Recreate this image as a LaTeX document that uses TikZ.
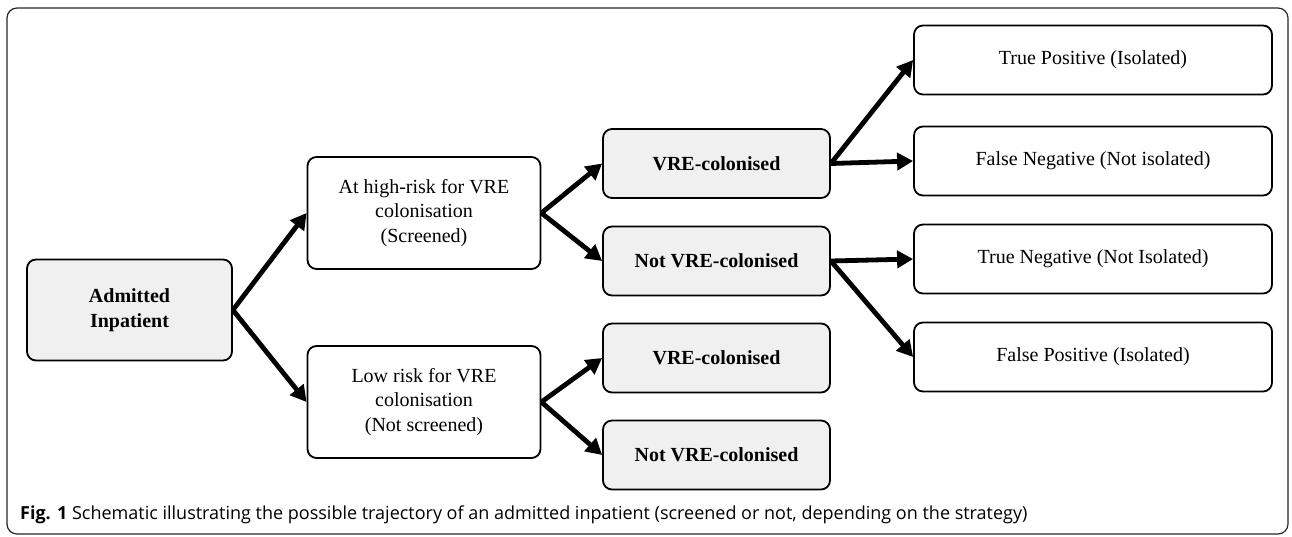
\documentclass[tikz,border=0pt]{standalone}
\usepackage{fontspec}
\setmainfont{Liberation Serif}
\newfontfamily\capfont{Open Sans}
\usepackage{tikz}
\usetikzlibrary{arrows.meta}
\newcommand{\bnode}[4]{\node [#1] (#2) at (#3) {#4}}
\tikzset{
  box/.style={draw, line width=1.8pt, rounded corners=9pt, align=center,
    inner sep=0pt, font=\fontsize{20}{24.5}\selectfont},
  graybox/.style={box, fill=black!6, font=\fontsize{20}{24.5}\selectfont\bfseries},
  wide/.style={minimum width=233pt, minimum height=112pt},
  mid/.style={minimum width=227pt, minimum height=69pt},
  far/.style={minimum width=358pt, minimum height=69pt},
  arr/.style={line width=4.8pt, -{Triangle[length=16pt,width=17pt]}}
}

\begin{document}
\begin{tikzpicture}[x=1pt,y=-1pt]
\useasboundingbox (0,0) rectangle (1292,536);
\draw[line width=1.2pt, black!85, rounded corners=10pt] (7,8) rectangle (1288,534);

\bnode{graybox, minimum width=205pt, minimum height=101pt}{ADM}{129.5,310}{Admitted\\Inpatient};
\bnode{box, wide}{HIGH}{424,213}{At high-risk for VRE\\colonisation\\(Screened)};
\bnode{box, wide}{LOW}{424,402}{Low risk for VRE\\colonisation\\(Not screened)};

\bnode{graybox, mid}{VREA}{716.5,163.5}{VRE-colonised};
\bnode{graybox, mid}{NOTA}{716.5,261}{Not VRE-colonised};
\bnode{graybox, mid}{VREB}{716.5,358}{VRE-colonised};
\bnode{graybox, mid}{NOTB}{716.5,455}{Not VRE-colonised};

\bnode{box, far}{TP}{1093,60}{True Positive (Isolated)};
\bnode{box, far}{FN}{1093,161}{False Negative (Not isolated)};
\bnode{box, far}{TN}{1093,259}{True Negative (Not Isolated)};
\bnode{box, far}{FP}{1093,357}{False Positive (Isolated)};

\draw[arr] (ADM.east) -- (HIGH.west);
\draw[arr] (ADM.east) -- (LOW.west);
\draw[arr] (HIGH.east) -- (VREA.west);
\draw[arr] (HIGH.east) -- (NOTA.west);
\draw[arr] (LOW.east) -- (VREB.west);
\draw[arr] (LOW.east) -- (NOTB.west);
\draw[arr] (VREA.east) -- (TP.west);
\draw[arr] (VREA.east) -- (FN.west);
\draw[arr] (NOTA.east) -- (TN.west);
\draw[arr] (NOTA.east) -- (FP.west);

\node[anchor=base west, inner sep=0pt, font=\capfont\fontsize{18}{22}\selectfont] (CAP) at (20,519.5)
  {\textbf{Fig. 1} Schematic illustrating the possible trajectory of an admitted inpatient (screened or not, depending on the strategy)};

\end{tikzpicture}
\end{document}
